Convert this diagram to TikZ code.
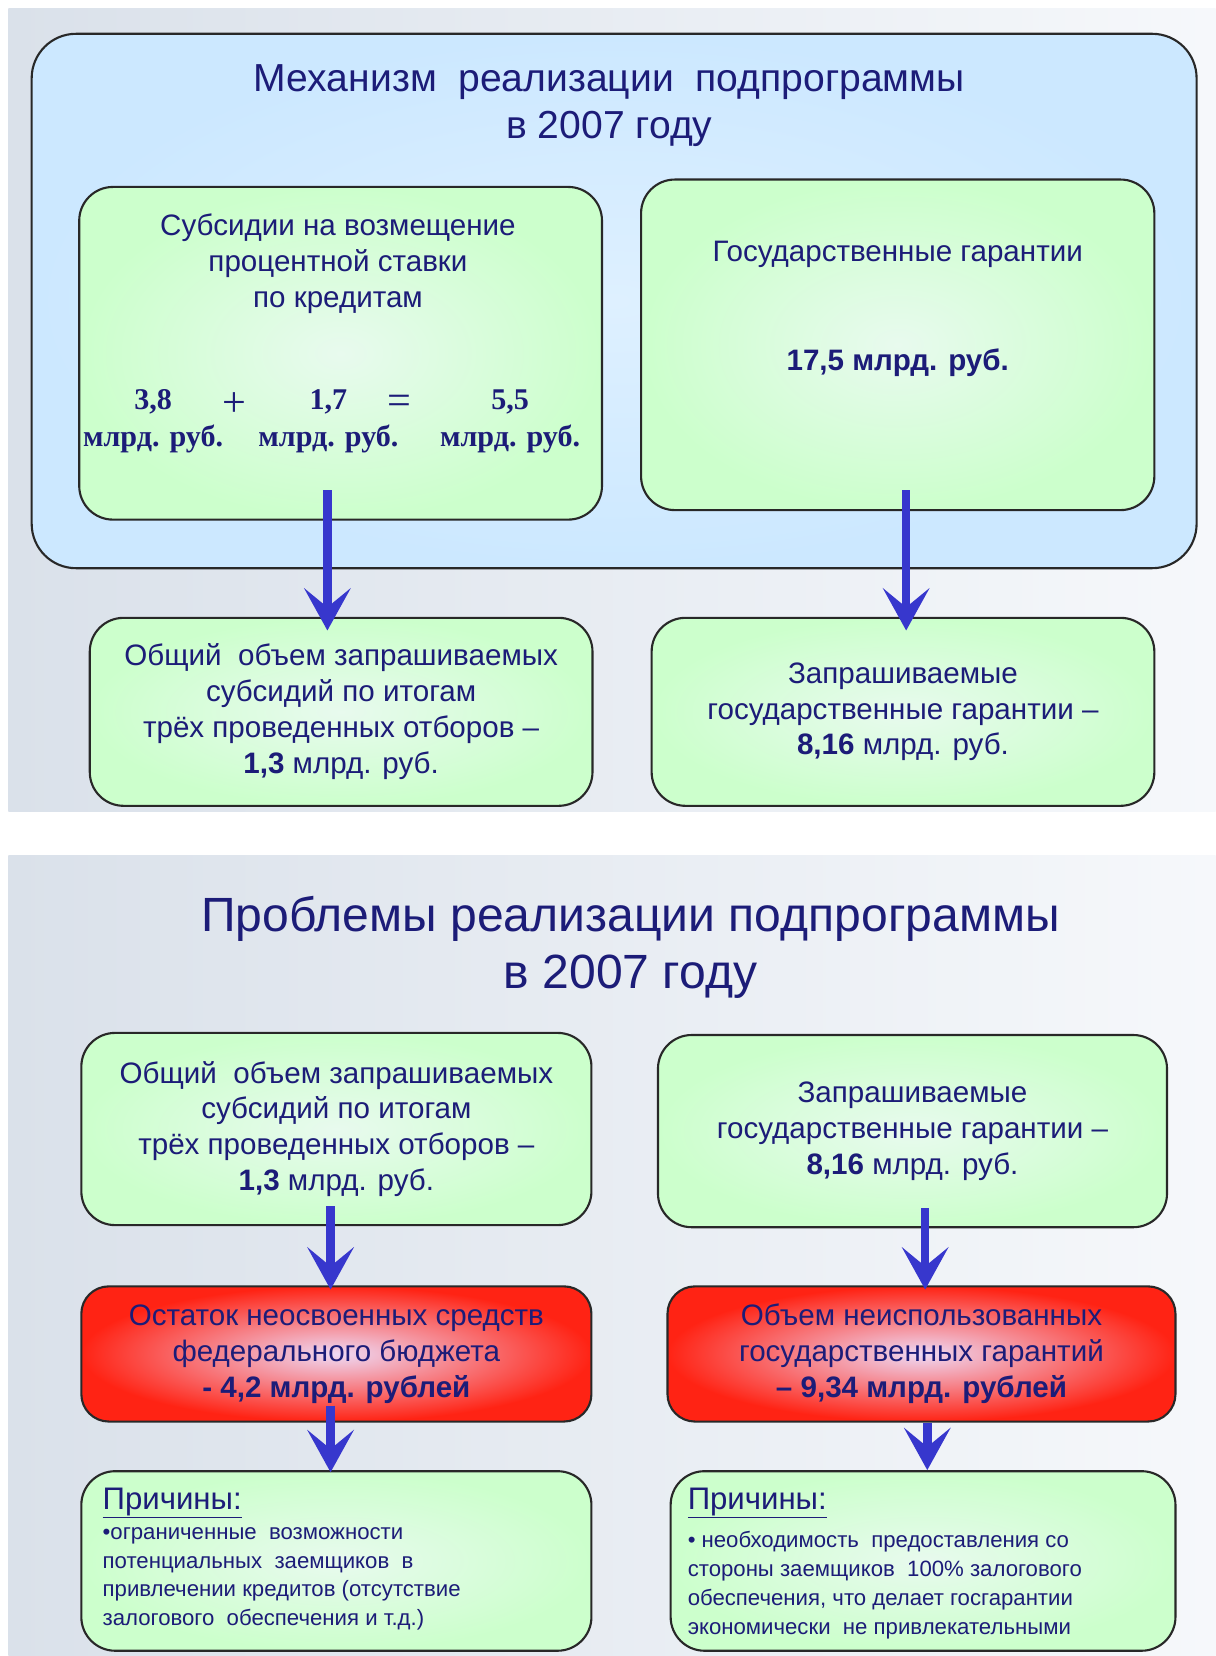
\documentclass[tikz,border=0pt]{standalone}
\usepackage{fontspec}
\setmainfont{Liberation Sans}
\newfontfamily\timesfont{Liberation Serif}
\usetikzlibrary{arrows.meta}
\definecolor{navy}{RGB}{28,28,120}
\definecolor{arrowblue}{RGB}{55,55,205}
\definecolor{mechblue}{RGB}{204,232,255}
\definecolor{mechcore}{RGB}{222,240,255}
\definecolor{boxgreen}{RGB}{204,255,204}
\definecolor{greencore}{RGB}{232,250,238}
\definecolor{boxred}{RGB}{255,35,20}
\definecolor{redcore}{RGB}{238,218,245}
\definecolor{edge}{RGB}{40,40,40}
\definecolor{bgdark}{RGB}{218,225,234}
\definecolor{bglight}{RGB}{246,248,251}
\begin{document}
\begin{tikzpicture}[x=1pt,y=-1pt,
  box/.style={draw=edge,line width=2pt,inner sep=0pt},
  mechbox/.style={box,rounded corners=42pt,inner color=mechcore,outer color=mechblue},
  greenbox/.style={box,rounded corners=32pt,inner color=greencore,outer color=boxgreen},
  redbox/.style={box,rounded corners=26pt,inner color=redcore,outer color=boxred},
  txt/.style={text=navy,align=center,inner sep=0pt,font=\fontsize{28}{34}\selectfont},
  title/.style={text=navy,align=center,inner sep=0pt},
  sum/.style={text=navy,align=center,inner sep=0pt,font=\timesfont\bfseries\fontsize{28.5}{35}\selectfont},
  cause/.style={text=navy,align=left,inner sep=0pt,font=\fontsize{21}{27.3}\selectfont},
  flow/.style={draw=arrowblue,line width=8pt,-{Stealth[length=40pt,width=44pt,inset=18pt]}}]
\useasboundingbox (0,0) rectangle (1151,1568);
\shade[left color=bgdark,right color=bglight] (8,8) rectangle (1151,768);
\shade[left color=bgdark,right color=bglight] (8,810) rectangle (1151,1568);

\node[mechbox,minimum width=1103pt,minimum height=506pt] (mech) at (581.5,285) {};
\node[title,font=\fontsize{37}{45}\selectfont] (mechtitle) at (577,100)
  {Механизм\ \ реализации\ \ подпрограммы\\в 2007 году};
\node[greenbox,minimum width=495pt,minimum height=315pt] (subs) at (322.5,334.5) {};
\node[greenbox,minimum width=486pt,minimum height=313pt] (gar) at (850,326.5) {};
\node[txt] (substext) at (320,250) {Субсидии на возмещение\\процентной ставки\\по кредитам};
\node[sum] (s1) at (145,399) {3,8\\млрд. руб.};
\node[sum] (s2) at (311,399) {1,7\\млрд. руб.};
\node[sum] (s3) at (483,399) {5,5\\млрд. руб.};
\node[text=navy,font=\timesfont\fontsize{40}{40}\selectfont] (plus) at (222,383) {+};
\node[text=navy,font=\timesfont\fontsize{40}{40}\selectfont] (eq) at (378,383) {=};
\node[txt] (gartext) at (850,241) {Государственные гарантии};
\node[txt,font=\bfseries\fontsize{28}{34}\selectfont] (garsum) at (850,343) {17,5 млрд. руб.};
\node[greenbox,minimum width=476pt,minimum height=178pt,txt] (total) at (323,674)
  {Общий\ \ объем запрашиваемых\\субсидий по итогам\\трёх проведенных отборов --\\\textbf{1,3} млрд. руб.};
\node[greenbox,minimum width=476pt,minimum height=178pt,txt] (req) at (855,674)
  {Запрашиваемые\\государственные гарантии --\\\textbf{8,16} млрд. руб.};
\draw[flow] ([xshift=-12.5pt,yshift=29pt]subs.south) -- ([xshift=-13pt,yshift=-13pt]total.north);
\draw[flow] ([xshift=8pt,yshift=20pt]gar.south) -- ([xshift=3pt,yshift=-13pt]req.north);

\node[title,font=\fontsize{45.5}{54}\selectfont] (probtitle) at (597,897)
  {Проблемы реализации подпрограммы\\в 2007 году};
\node[greenbox,minimum width=483pt,minimum height=182pt,txt] (total2) at (318.5,1069)
  {Общий\ \ объем запрашиваемых\\субсидий по итогам\\трёх проведенных отборов --\\\textbf{1,3} млрд. руб.};
\node[greenbox,minimum width=482pt,minimum height=182pt,txt] (req2) at (864,1071)
  {Запрашиваемые\\государственные гарантии --\\\textbf{8,16} млрд. руб.};
\node[redbox,minimum width=483pt,minimum height=128pt,txt] (rest) at (318.5,1282)
  {Остаток неосвоенных средств\\федерального бюджета\\\textbf{- 4,2 млрд. рублей}};
\node[redbox,minimum width=481pt,minimum height=128pt,txt] (unused) at (872.5,1282)
  {Объем неиспользованных\\государственных гарантий\\\textbf{-- 9,34 млрд. рублей}};
\node[greenbox,minimum width=483pt,minimum height=170pt] (causeL) at (318.5,1478) {};
\node[greenbox,minimum width=478pt,minimum height=170pt] (causeR) at (874,1478) {};
\node[title,anchor=west,font=\fontsize{29.5}{34}\selectfont] (causeLh) at (97,1423) {\underline{Причины:}};
\node[cause,anchor=north west] (causeLt) at (97,1446)
  {•ограниченные\ \ возможности\\потенциальных\ \ заемщиков\ \ в\\привлечении кредитов (отсутствие\\залогового\ \ обеспечения и т.д.)};
\node[title,anchor=west,font=\fontsize{29.5}{34}\selectfont] (causeRh) at (651,1423) {\underline{Причины:}};
\node[cause,anchor=north west] (causeRt) at (651,1450)
  {• необходимость\ \ предоставления со\\стороны заемщиков\ \ 100\% залогового\\обеспечения, что делает госгарантии\\экономически\ \ не привлекательными};
\draw[flow] ([xshift=-5.5pt,yshift=19pt]total2.south) -- ([xshift=-5.5pt,yshift=-4pt]rest.north);
\draw[flow] ([xshift=12pt,yshift=19pt]req2.south) -- ([xshift=3.5pt,yshift=-4pt]unused.north);
\draw[flow] ([xshift=-5.5pt,yshift=16pt]rest.south) -- ([xshift=-5.5pt,yshift=-2pt]causeL.north);
\draw[flow] ([xshift=5.5pt]unused.south) -- ([xshift=4pt]causeR.north);
\end{tikzpicture}
\end{document}
